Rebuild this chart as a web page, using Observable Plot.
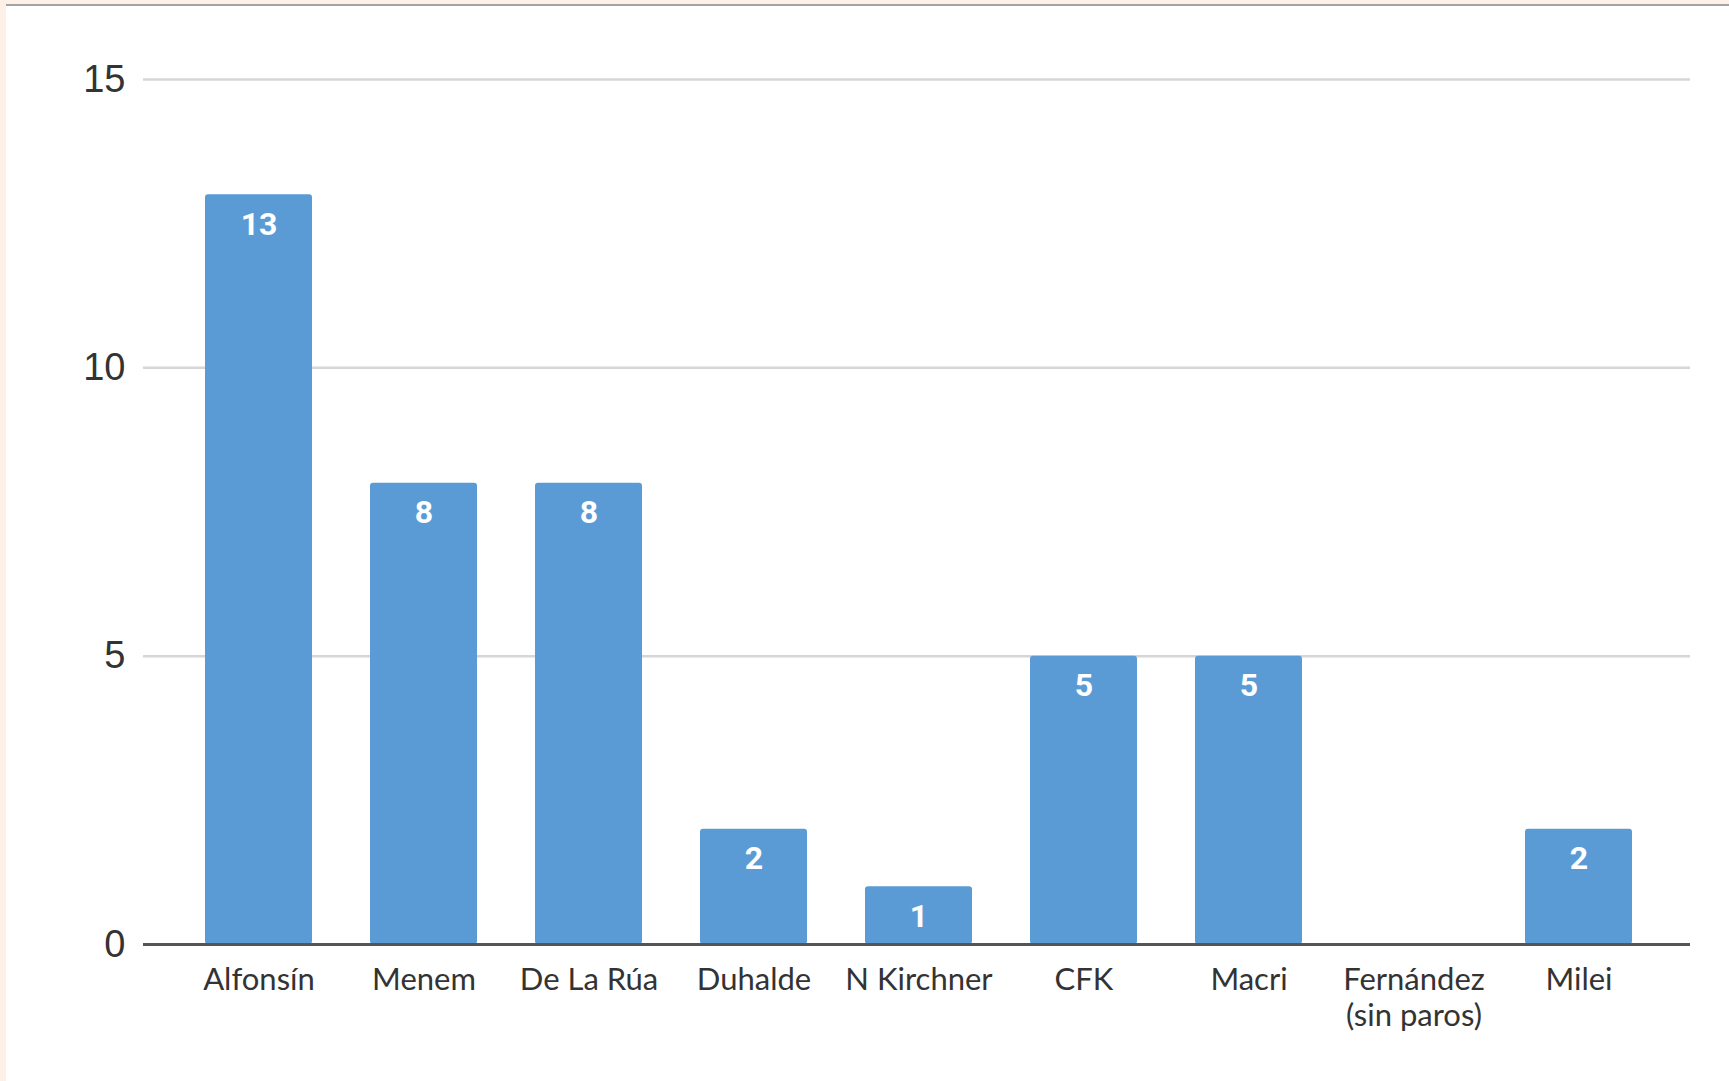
<!DOCTYPE html>
<html>
<head>
<meta charset="utf-8">
<script src="https://cdn.jsdelivr.net/npm/d3@7"></script>
<script src="https://cdn.jsdelivr.net/npm/@observablehq/plot@0.6"></script>
<style>
  html, body { margin: 0; padding: 0; background: #ffffff; }
  #wrap { position: relative; width: 1729px; height: 1081px; overflow: hidden; }
  #chart { position: absolute; left: 0; top: 0; }
  .peach-left { position: absolute; left: 0; top: 0; width: 6px; height: 1081px; background: #fdf0e6; }
  .peach-top { position: absolute; left: 0; top: 0; width: 1729px; height: 4px; background: #fdf0e6; }
  .grey-top { position: absolute; left: 6px; top: 4px; width: 1723px; height: 2px; background: #a3a3a3; }
</style>
</head>
<body>
<div id="wrap">
  <div id="chart"></div>
  <div class="peach-left"></div>
  <div class="peach-top"></div>
  <div class="grey-top"></div>
</div>
<script>
const categories = ["Alfonsín", "Menem", "De La Rúa", "Duhalde", "N Kirchner", "CFK", "Macri", "Fernández\n(sin paros)", "Milei"];
const values = [13, 8, 8, 2, 1, 5, 5, 0, 2];
const yTicks = [0, 5, 10, 15];

const data = categories.map((c, i) => ({name: c, value: values[i]}));

const chart = Plot.plot({
  width: 1729,
  height: 1081,
  marginLeft: 143,
  marginRight: 39,
  marginTop: 79,
  marginBottom: 137,
  style: {background: "#ffffff", color: "#333333"},
  x: {domain: categories, range: [146, 1690], paddingInner: 0.352, paddingOuter: 0.35, label: null},
  y: {domain: [0, 15], label: null},
  marks: [
    Plot.gridY(yTicks.filter(d => d > 0), {stroke: "#d6d6d6", strokeOpacity: 1, strokeWidth: 2.5}),
    Plot.barY(data, {x: "name", y: "value", fill: "#5b9bd5", rx: 3}),
    Plot.ruleY([0], {stroke: "#555555", strokeWidth: 3}),
    Plot.text(data.filter(d => d.value > 0), {
      x: "name", y: "value", text: d => String(d.value),
      dy: 30, fill: "#ffffff", fontSize: 32, fontWeight: "bold",
      fontFamily: "Roboto"
    }),
    Plot.axisY({ticks: yTicks, tickSize: 0, tickPadding: 18, fontSize: 38, fontFamily: "Liberation Sans, Arial, sans-serif", fill: "#333333"}),
    Plot.axisX({tickSize: 0, tickPadding: 20, fontSize: 31, lineHeight: 1.16, fontFamily: "Lato, sans-serif", fill: "#333333"})
  ]
});
document.getElementById("chart").appendChild(chart);
</script>
</body>
</html>
